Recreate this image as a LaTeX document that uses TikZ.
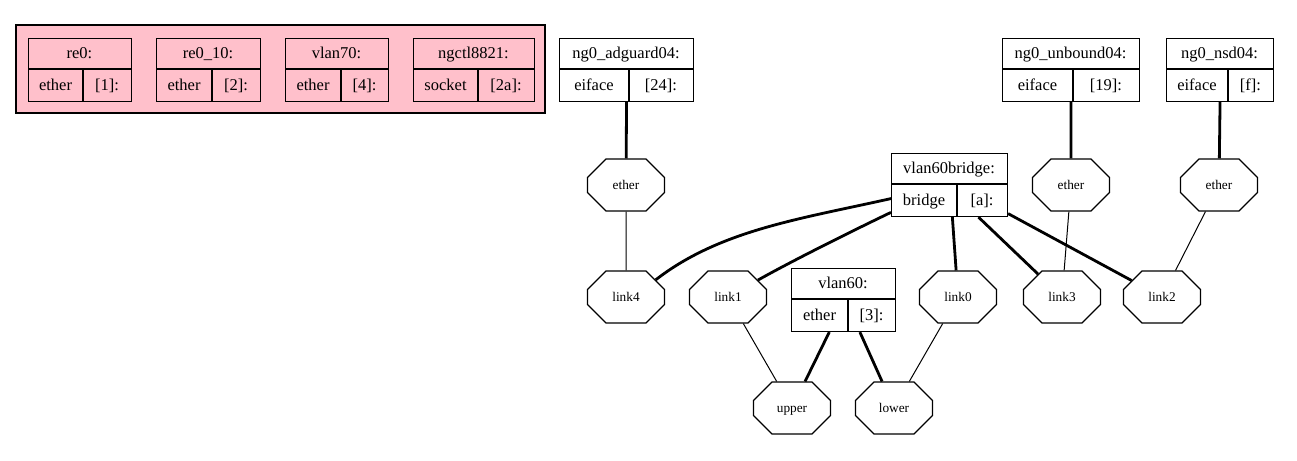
\documentclass[tikz,border=0pt]{standalone}
\usepackage{fontspec}
\setmainfont{Liberation Serif}
\usetikzlibrary{shapes.misc}
\definecolor{gvpink}{RGB}{255,192,203}
\tikzset{
  recbox/.style={draw, line width=1.1pt, rectangle, inner sep=0pt, anchor=north west},
  recline/.style={line width=1.1pt},
  rectext/.style={inner sep=0pt, text height=12pt, text depth=2pt, font=\fontsize{16.5}{19}\selectfont},
  oct/.style={draw, line width=1.1pt, chamfered rectangle, chamfered rectangle xsep=22pt, chamfered rectangle ysep=13pt,
    minimum width=77pt, minimum height=52pt, inner sep=0pt, text height=9.5pt, text depth=1.5pt,
    font=\fontsize{13.3}{16}\selectfont},
  thinedge/.style={line width=1pt},
  thickedge/.style={line width=2.8pt},
}
\newcommand\recnode[9]{%
  \node[recbox, minimum width={(#4-#2)*1pt}, minimum height={(#5-#3)*1pt}] (#1) at (#2,#3) {};
  \draw[recline] (#2,#3+31) -- (#4,#3+31);
  \draw[recline] (#6,#3+31) -- (#6,#5);
  \node[rectext] (#1-t) at ({(#2+#4)/2},{#3+15.5}) {#7};
  \node[rectext] (#1-l) at ({(#2+#6)/2},{(#3+31+#5)/2}) {#8};
  \node[rectext] (#1-r) at ({(#6+#4)/2},{(#3+31+#5)/2}) {#9};
}
\begin{document}
\begin{tikzpicture}[x=1pt,y=-1pt]
\useasboundingbox (0,0) rectangle (1297,460);
% cluster
\draw[fill=gvpink, line width=1.1pt] (16,25) rectangle (545,113);
\begin{scope}[recbox/.append style={fill=gvpink}]
\recnode{re0}{28}{38}{131}{101}{83}{re0:}{ether}{[1]:}
\recnode{re010}{156}{38}{260}{101}{212}{re0\_10:}{ether}{[2]:}
\recnode{vlan70}{285}{38}{388}{101}{341}{vlan70:}{ether}{[4]:}
\recnode{ngctl}{413}{38}{534}{101}{478}{ngctl8821:}{socket}{[2a]:}
\end{scope}
% records
\recnode{adg}{559}{38}{693}{101}{629}{ng0\_adguard04:}{eiface}{[24]:}
\recnode{unb}{1002}{38}{1139}{101}{1073}{ng0\_unbound04:}{eiface}{[19]:}
\recnode{nsd}{1166}{38}{1273}{101}{1228}{ng0\_nsd04:}{eiface}{[f]:}
\recnode{vb}{891}{153}{1007}{216}{957}{vlan60bridge:}{bridge}{[a]:}
\recnode{v60}{791}{268}{895}{331}{848}{vlan60:}{ether}{[3]:}
% octagons
\node[oct] (eth1) at (626,185) {ether};
\node[oct] (eth2) at (1071,185) {ether};
\node[oct] (eth3) at (1219,185) {ether};
\node[oct] (link4) at (626,297) {link4};
\node[oct] (link1) at (728,297) {link1};
\node[oct] (link0) at (958,297) {link0};
\node[oct] (link3) at (1062,297) {link3};
\node[oct] (link2) at (1162,297) {link2};
\node[oct] (upper) at (792,408) {upper};
\node[oct] (lower) at (894,408) {lower};
% edges
\draw[thickedge] (adg.south) -- (eth1);
\draw[thickedge] (unb.south) -- (eth2);
\draw[thickedge] (nsd.south) -- (eth3);
\draw[thinedge] (eth1) -- (link4);
\draw[thinedge] (eth2) -- (link3);
\draw[thinedge] (eth3) -- (link2);
\draw[thickedge] (vb.193) .. controls (800,219) and (720,230) .. (link4.north east);
\draw[thickedge] (vb.205) .. controls (850,232) and (790,262) .. (link1);
\draw[thickedge] (vb.275) -- (link0);
\draw[thickedge] (vb.312) -- (link3);
\draw[thickedge] (vb.334) -- (link2);
\draw[thickedge] (v60.246) -- (upper);
\draw[thickedge] (v60.297) -- (lower);
\draw[thinedge] (link1) -- (upper);
\draw[thinedge] (link0) -- (lower);
\end{tikzpicture}
\end{document}
